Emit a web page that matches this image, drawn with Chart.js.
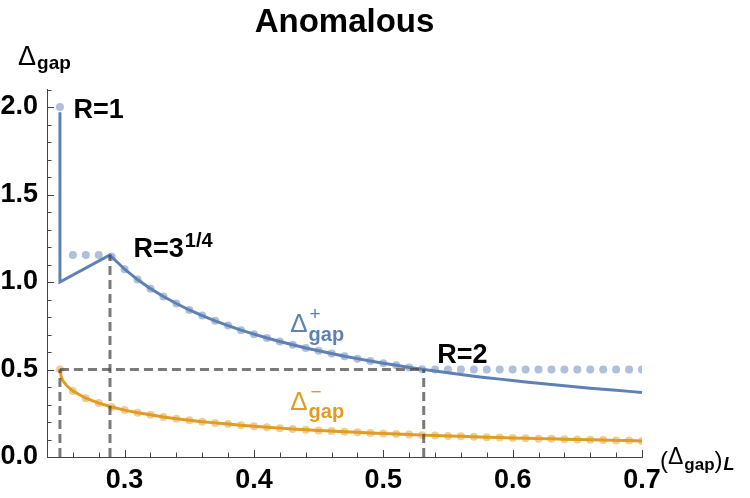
<!DOCTYPE html>
<html>
<head>
<meta charset="utf-8">
<script src="https://cdn.jsdelivr.net/npm/chart.js@4.4.0/dist/chart.umd.min.js"></script>
<style>
  html, body { margin: 0; padding: 0; background: #fff; }
  canvas { display: block; }
</style>
</head>
<body>
<canvas id="myChart" width="750" height="498"></canvas>
<script>
// (Delta_gap)_L sample points used by the dotted bounds and the curves
const xGrid = [0.25, 0.26, 0.27, 0.28, 0.29, 0.30, 0.31, 0.32, 0.33, 0.34,
  0.35, 0.36, 0.37, 0.38, 0.39, 0.40, 0.41, 0.42, 0.43, 0.44,
  0.45, 0.46, 0.47, 0.48, 0.49, 0.50, 0.51, 0.52, 0.53, 0.54,
  0.55, 0.56, 0.57, 0.58, 0.59, 0.60, 0.61, 0.62, 0.63, 0.64,
  0.65, 0.66, 0.67, 0.68, 0.69, 0.70];

// Delta+ : jump at R=1, rise to R=3^(1/4), then decaying branch (from x=0.29)
const plusJumpX = [0.25, 0.25, 0.2887];
const plusJumpY = [1.97, 1.00, 1.155];
const plusCurve = [1.144, 1.073, 1.014, 0.962, 0.917, 0.877, 0.840, 0.808, 0.778, 0.751,
  0.725, 0.702, 0.680, 0.660, 0.641, 0.623, 0.607, 0.591, 0.576, 0.562,
  0.549, 0.536, 0.524, 0.512, 0.501, 0.491, 0.481, 0.471, 0.462, 0.453,
  0.445, 0.437, 0.429, 0.421, 0.414, 0.407, 0.400, 0.393, 0.387, 0.381,
  0.375, 0.369];

// Delta- : steep start near x=0.25, then on xGrid
const minusStartX = [0.25, 0.251, 0.2525, 0.255];
const minusStartY = [0.500, 0.457, 0.434, 0.410];
const minusCurve = [0.500, 0.377, 0.336, 0.308, 0.286, 0.268, 0.253, 0.241, 0.229, 0.219,
  0.210, 0.202, 0.195, 0.188, 0.181, 0.176, 0.170, 0.165, 0.160, 0.156,
  0.152, 0.148, 0.144, 0.141, 0.137, 0.134, 0.131, 0.128, 0.125, 0.123,
  0.120, 0.118, 0.116, 0.113, 0.111, 0.109, 0.107, 0.105, 0.104, 0.102,
  0.100, 0.098, 0.097, 0.095, 0.094, 0.092];

// light dotted bounds on xGrid
const plusDots = [2.000, 1.155, 1.155, 1.155, 1.144, 1.073, 1.014, 0.962, 0.917, 0.877,
  0.840, 0.808, 0.778, 0.751, 0.725, 0.702, 0.680, 0.660, 0.641, 0.623,
  0.607, 0.591, 0.576, 0.562, 0.549, 0.536, 0.524, 0.512, 0.501, 0.500,
  0.500, 0.500, 0.500, 0.500, 0.500, 0.500, 0.500, 0.500, 0.500, 0.500,
  0.500, 0.500, 0.500, 0.500, 0.500, 0.500];
const minusDots = minusCurve;

// dashed guides: R=1, R=3^(1/4), R=2
const guideX = [0.25, 0.2887, 0.53125];
const guideY = [0.5, 1.155, 0.5];

const xTicks = [0.3, 0.4, 0.5, 0.6, 0.7];
const yTicks = [0.0, 0.5, 1.0, 1.5, 2.0];

const blue = '#5e81b5';
const orange = '#e19c24';
const axisColor = '#444';
const fam = "'Liberation Sans', Arial, sans-serif";

function pts(xs, ys) { return xs.map((v, i) => ({x: v, y: ys[i]})); }

const plusLine = pts(plusJumpX, plusJumpY).concat(pts(xGrid.slice(4), plusCurve));
const minusLine = pts(minusStartX, minusStartY).concat(pts(xGrid.slice(1), minusCurve.slice(1)));

const guides = guideX.map((gx, i) => [{x: gx, y: 0}, {x: gx, y: guideY[i]}]);
guides.push([{x: guideX[0], y: guideY[0]}, {x: guideX[2], y: guideY[2]}]);

const datasets = [];
guides.forEach(g => datasets.push({
  data: g, showLine: true, borderColor: 'rgba(70,70,70,0.72)', borderWidth: 3,
  borderDash: [9, 5], pointRadius: 0, order: 0
}));
datasets.push({data: plusLine, showLine: true, borderColor: blue, borderWidth: 3, pointRadius: 0, order: 1});
datasets.push({data: minusLine, showLine: true, borderColor: orange, borderWidth: 3, pointRadius: 0, order: 1});
datasets.push({data: pts(xGrid, plusDots), showLine: false, pointRadius: 4, pointBorderWidth: 0,
  pointBackgroundColor: 'rgba(94,129,181,0.5)', order: 2});
datasets.push({data: pts(xGrid, minusDots), showLine: false, pointRadius: 4, pointBorderWidth: 0,
  pointBackgroundColor: 'rgba(225,156,36,0.5)', order: 2});

// draw text pieces one after another: [text, font, color, gapBefore, dy, stay]
// stay = true keeps the pen where it was (for stacked super/subscripts)
function rich(ctx, x, y, parts) {
  let pen = x;
  parts.forEach(p => {
    ctx.font = p[1];
    ctx.fillStyle = p[2];
    const start = pen + p[3];
    ctx.fillText(p[0], start, y + p[4]);
    if (!p[5]) pen = start + ctx.measureText(p[0]).width;
  });
}

const decorations = {
  id: 'decorations',
  afterDraw(chart) {
    const ctx = chart.ctx;
    const a = chart.chartArea;
    const sx = chart.scales.x, sy = chart.scales.y;
    ctx.save();

    // inward tick marks
    ctx.strokeStyle = axisColor;
    ctx.lineWidth = 1;
    ctx.beginPath();
    for (let k = 1; k <= 21; k++) {
      const py = Math.round(sy.getPixelForValue(k / 10)) + 0.5;
      const len = k % 5 === 0 ? 7 : 4.5;
      ctx.moveTo(a.left, py); ctx.lineTo(a.left + len, py);
    }
    for (let k = 13; k <= 35; k++) {
      const px = Math.round(sx.getPixelForValue(k / 50)) + 0.5;
      const len = k % 5 === 0 ? 7 : 4.5;
      ctx.moveTo(px, a.bottom); ctx.lineTo(px, a.bottom - len);
    }
    ctx.stroke();

    ctx.textBaseline = 'alphabetic';

    // title
    ctx.textAlign = 'center';
    ctx.font = 'bold 33px ' + fam;
    ctx.fillStyle = '#000';
    ctx.fillText('Anomalous', (a.left + a.right) / 2, 32);
    ctx.textAlign = 'left';

    // axis labels
    rich(ctx, a.left - 29, a.top - 24.5, [
      ['\u0394', '27px ' + fam, '#000', 0, 0],
      ['gap', 'bold 19px ' + fam, '#000', 1, 4]
    ]);
    rich(ctx, a.right + 18, a.bottom, [
      ['(', '24px ' + fam, '#000', 0, 11],
      ['\u0394', '23px ' + fam, '#000', 0, 7],
      ['gap', 'bold 17px ' + fam, '#000', 1, 13],
      [')', '24px ' + fam, '#000', 0, 11],
      ['L', 'italic bold 18px ' + fam, '#000', 1, 13]
    ]);

    // R annotations
    rich(ctx, sx.getPixelForValue(guideX[0]) + 13.5, sy.getPixelForValue(2.0) + 11, [
      ['R=1', 'bold 27px ' + fam, '#000', 0, 0]
    ]);
    rich(ctx, sx.getPixelForValue(guideX[1]) + 23.5, sy.getPixelForValue(guideY[1]) + 2.5, [
      ['R=3', 'bold 27px ' + fam, '#000', 0, 0],
      ['1/4', 'bold 20px ' + fam, '#000', 1, -10]
    ]);
    rich(ctx, sx.getPixelForValue(guideX[2]) + 13.5, sy.getPixelForValue(guideY[2]) - 6.5, [
      ['R=2', 'bold 27px ' + fam, '#000', 0, 0]
    ]);

    // curve labels
    const lx = sx.getPixelForValue(0.428);
    rich(ctx, lx, sy.getPixelForValue(0.714), [
      ['\u0394', '26px ' + fam, blue, 0, 0],
      ['+', '19px ' + fam, blue, 2, -12, true],
      ['gap', 'bold 20px ' + fam, blue, 1, 9]
    ]);
    rich(ctx, lx, sy.getPixelForValue(0.269), [
      ['\u0394', '26px ' + fam, orange, 0, 0],
      ['\u2212', '19px ' + fam, orange, 3, -12, true],
      ['gap', 'bold 20px ' + fam, orange, 1, 8]
    ]);
    ctx.restore();
  }
};

const ctx = document.getElementById('myChart').getContext('2d');
new Chart(ctx, {
  type: 'scatter',
  data: { datasets: datasets },
  options: {
    responsive: false,
    animation: false,
    layout: { padding: { left: 0, right: 108, top: 89.5, bottom: 0 } },
    plugins: { legend: { display: false }, tooltip: { enabled: false } },
    scales: {
      x: {
        type: 'linear', min: 0.24, max: 0.7,
        grid: { display: false, drawTicks: false },
        border: { display: true, color: axisColor, width: 1 },
        afterBuildTicks: s => { s.ticks = xTicks.map(v => ({value: v})); },
        afterFit: s => { s.height = 41; },
        ticks: {
          padding: 7, color: '#000', maxRotation: 0,
          font: { family: fam, size: 27, weight: 'bold' },
          callback: v => v.toFixed(1)
        }
      },
      y: {
        type: 'linear', min: 0, max: 2.1,
        grid: { display: false, drawTicks: false },
        border: { display: true, color: axisColor, width: 1 },
        afterBuildTicks: s => { s.ticks = yTicks.map(v => ({value: v})); },
        afterFit: s => { s.width = 47; },
        ticks: {
          padding: 9, color: '#000',
          font: { family: fam, size: 27, weight: 'bold' },
          callback: v => v.toFixed(1)
        }
      }
    }
  },
  plugins: [decorations]
});
</script>
</body>
</html>
